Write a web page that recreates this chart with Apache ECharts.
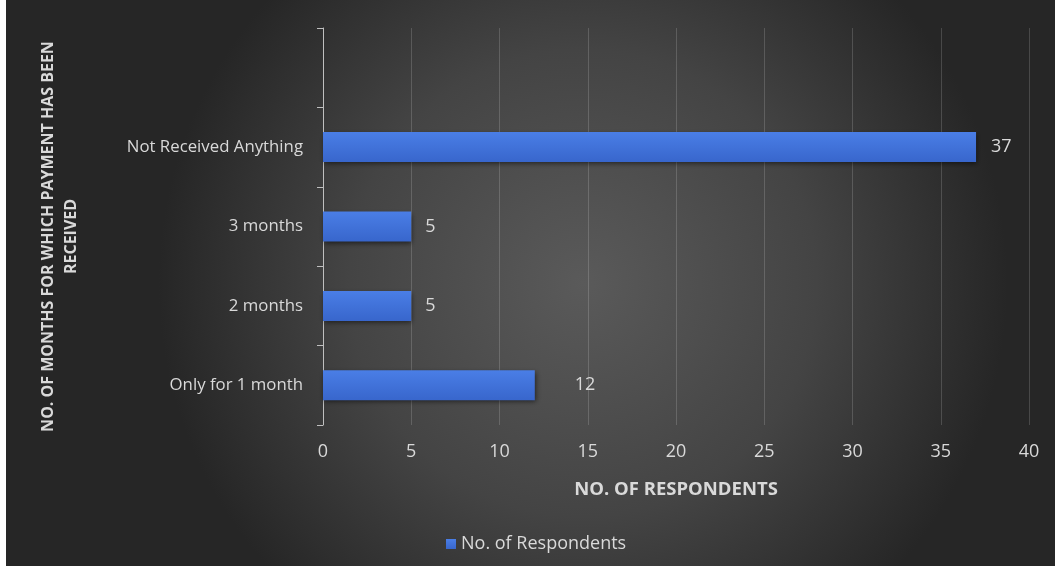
<!DOCTYPE html>
<html>
<head>
<meta charset="utf-8">
<script src="https://cdn.jsdelivr.net/npm/echarts@6/dist/echarts.min.js"></script>
<style>
  html, body { margin: 0; padding: 0; background: #ffffff; }
  #chart { position: absolute; left: 6px; top: 0; width: 1049px; height: 566px; }
</style>
</head>
<body>
<div id="chart"></div>
<script>
// Payment months reported by respondents (bottom to top on the axis)
const categories = ['Only for 1 month', '2 months', '3 months', 'Not Received Anything', ''];
const respondents = [12, 5, 5, 37, null];
// Gap between bar end and its value label
const labelGaps = [40, 14, 14, 15, 0];
const xTicks = { min: 0, max: 40, interval: 5 };

const textColor = '#d9d9d9';
const fontFamily = '"Open Sans", Lato, sans-serif';

const chart = echarts.init(document.getElementById('chart'));
chart.setOption({
  backgroundColor: {
    type: 'radial', x: 0.55, y: 0.5, r: 0.75,
    colorStops: [
      { offset: 0, color: '#5a5a5a' },
      { offset: 0.55, color: '#444444' },
      { offset: 1, color: '#262626' }
    ]
  },
  textStyle: { fontFamily: fontFamily },
  grid: { left: 317, right: 26, top: 28, bottom: 141, containLabel: false },
  legend: {
    bottom: 8,
    left: 435,
    itemWidth: 10,
    itemHeight: 10,
    itemGap: 7,
    icon: 'rect',
    textStyle: { color: textColor, fontSize: 18, fontFamily: fontFamily },
    data: ['No. of Respondents']
  },
  xAxis: {
    type: 'value',
    min: xTicks.min,
    max: xTicks.max,
    interval: xTicks.interval,
    name: 'NO. OF RESPONDENTS',
    nameLocation: 'middle',
    nameGap: 55,
    nameTextStyle: { color: textColor, fontSize: 18.5, fontWeight: 'bold', fontFamily: fontFamily },
    axisLine: { show: false },
    axisTick: { show: false },
    axisLabel: { color: textColor, fontSize: 18, margin: 18 },
    splitLine: { show: true, lineStyle: { color: 'rgba(255,255,255,0.16)', width: 1 } }
  },
  yAxis: {
    type: 'category',
    data: categories,
    name: 'NO. OF MONTHS FOR WHICH PAYMENT HAS BEEN\nRECEIVED',
    nameLocation: 'middle',
    nameGap: 240,
    nameRotate: 90,
    nameTextStyle: {
      color: textColor, fontSize: 16, fontWeight: 'bold', lineHeight: 23,
      fontFamily: fontFamily, padding: [0, 20, 0, 0]
    },
    axisLine: { show: true, lineStyle: { color: '#bfbfbf', width: 1 } },
    axisTick: { show: true, length: 6, inside: false, lineStyle: { color: '#bfbfbf' } },
    axisLabel: { color: textColor, fontSize: 16.8, margin: 20 },
    splitLine: { show: false }
  },
  series: [{
    name: 'No. of Respondents',
    type: 'bar',
    barWidth: 30,
    data: respondents.map((v, i) => ({
      value: v,
      label: { distance: labelGaps[i] }
    })),
    itemStyle: {
      color: {
        type: 'linear', x: 0, y: 0, x2: 0, y2: 1,
        colorStops: [
          { offset: 0, color: '#4a7ee6' },
          { offset: 1, color: '#3866cc' }
        ]
      },
      shadowBlur: 5,
      shadowColor: 'rgba(0,0,0,0.55)',
      shadowOffsetX: 1,
      shadowOffsetY: 2
    },
    label: {
      show: true,
      position: 'right',
      color: textColor,
      fontSize: 18,
      fontFamily: fontFamily
    }
  }]
});
</script>
</body>
</html>
